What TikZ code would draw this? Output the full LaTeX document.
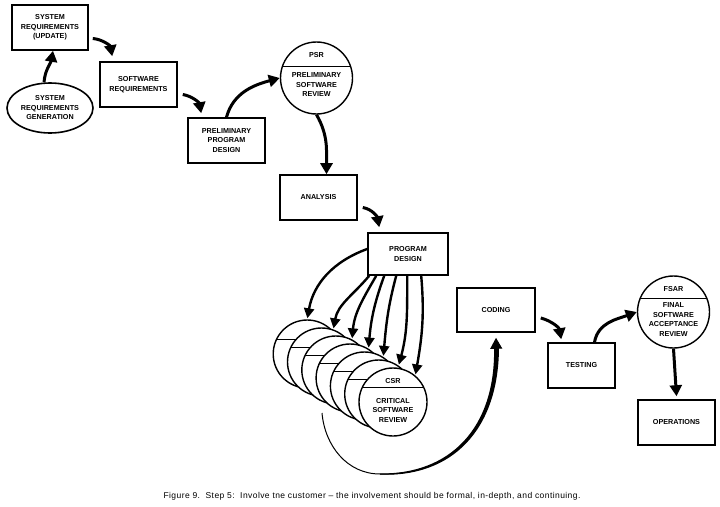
\documentclass[tikz,border=0pt]{standalone}
\usepackage{fontspec}
\setmainfont{Liberation Sans}
\usetikzlibrary{positioning,calc,shapes,arrows.meta}

\begin{document}
\begin{tikzpicture}[x=1pt,y=-1pt,
  every node/.style={font=\fontsize{7.2}{9.5}\selectfont\bfseries,align=center},
  box/.style={draw,line width=1.6pt,minimum width=77pt,minimum height=45pt,inner sep=1pt},
  review/.style={draw,circle,line width=1.4pt,minimum size=72pt,inner sep=0pt,fill=white,
    path picture={\draw[line width=1pt] ([yshift=#1]path picture bounding box.west) -- ([yshift=#1]path picture bounding box.east);}},
  review/.default=12pt,
  flow/.style={-{Triangle[length=11pt,width=12pt]},line width=3pt},
  fan/.style={-{Triangle[length=10pt,width=10pt]},line width=2.4pt,shorten >=1pt}]
  \useasboundingbox (0,0) rectangle (720,506);

  \node[box,minimum width=76pt] (sru) at (50,27.5) {SYSTEM\\REQUIREMENTS\\(UPDATE)};
  \node[draw,ellipse,line width=1.6pt,minimum width=86pt,minimum height=50pt,inner sep=0pt] (gen) at (50,108) {SYSTEM\\REQUIREMENTS\\GENERATION};
  \node[box] (swr) at (138.5,84.5) {SOFTWARE\\REQUIREMENTS};
  \node[box] (ppd) at (226.5,140.5) {PRELIMINARY\\PROGRAM\\DESIGN};
  \node[review] (psr) at (316.5,78) {};
  \node (psrtag) at ([yshift=23pt]psr.center) {PSR};
  \node (psrtext) at ([yshift=-7pt]psr.center) {PRELIMINARY\\SOFTWARE\\REVIEW};
  \node[box] (ana) at (318.5,197.5) {ANALYSIS};
  \node[box,minimum width=80pt,minimum height=42pt] (pd) at (408,254) {PROGRAM\\DESIGN};

  \foreach \j in {6,5,...,1}
    \node[review=15pt,minimum size=68pt] (crs\j) at (393-14.3*\j,402-8*\j) {};
  \node[review=15pt,minimum size=68pt] (csr) at (393,402) {};
  \node (csrtag) at ([yshift=21pt]csr.center) {CSR};
  \node (csrtext) at ([yshift=-8pt]csr.center) {CRITICAL\\SOFTWARE\\REVIEW};

  \node[box,minimum width=78pt,minimum height=44pt] (coding) at (496,310) {CODING};
  \node[box,minimum width=67pt] (test) at (581.5,365.5) {TESTING};
  \node[review=14pt] (fsar) at (673.5,312) {};
  \node (fsartag) at ([yshift=23pt]fsar.center) {FSAR};
  \node (fsartext) at ([yshift=-7.5pt]fsar.center) {FINAL\\SOFTWARE\\ACCEPTANCE\\REVIEW};
  \node[box] (ops) at (676.5,422.5) {OPERATIONS};

  \draw[flow] ([xshift=-6pt]gen.north) to[out=85,in=-100] ([xshift=3pt]sru.south);
  \draw[flow] ([xshift=4pt,yshift=-11pt]sru.east) to[out=-5,in=100] ([xshift=13pt,yshift=5pt]swr.north west);
  \draw[flow] ([xshift=5pt,yshift=-10pt]swr.east) to[out=-10,in=100] ([xshift=14pt,yshift=4pt]ppd.north west);
  \draw[flow] (ppd.north) to[out=75,in=195] (psr.west);
  \draw[flow] (psr.south) to[out=-60,in=90] ([xshift=8pt]ana.north);
  \draw[flow] ([xshift=5pt,yshift=-10pt]ana.east) to[out=-10,in=100] ([xshift=12pt,yshift=5pt]pd.north west);

  \draw[fan] ([yshift=5pt]pd.west) to[out=200,in=80] (crs6.90);
  \draw[fan] ([xshift=2pt]pd.south west) to[out=230,in=80] (crs5.70);
  \draw[fan] ([xshift=9pt]pd.south west) to[out=240,in=85] (crs4.62);
  \draw[fan] ([xshift=17pt]pd.south west) to[out=250,in=85] (crs3.58);
  \draw[fan] ([xshift=29pt]pd.south west) to[out=255,in=85] (crs2.57);
  \draw[fan] ([xshift=40pt]pd.south west) to[out=-90,in=75] (crs1.55);
  \draw[fan] ([xshift=54pt]pd.south west) to[out=-85,in=80] (csr.50);

  \coordinate (loopstart) at (322,413);
  \draw[line width=1pt,-{Triangle[length=11pt,width=12pt]}] (loopstart) to[out=-85,in=180] (380,474) .. controls (450,476) and (498,430) .. ([yshift=-5pt]coding.south);
  \fill (380,474.6) .. controls (451,477.5) and (499.5,431) .. (499,345) -- (494,345) .. controls (496.5,429) and (449,474.5) .. (380,473.4) -- cycle;

  \draw[flow] ([xshift=5pt,yshift=-8pt]coding.east) to[out=-15,in=100] ([xshift=14pt,yshift=3pt]test.north west);
  \draw[flow] ([xshift=13pt]test.north) to[out=80,in=200] (fsar.west);
  \draw[flow] (fsar.south) -- ([yshift=3pt]ops.north);

  \node[font=\fontsize{8.5}{10}\selectfont\addfontfeature{LetterSpace=5},anchor=base west] (caption) at (160,498) {Figure 9.\ \ Step 5:\ \ Involve tne customer -- the involvement should be formal, in-depth, and continuing.};
\end{tikzpicture}
\end{document}
